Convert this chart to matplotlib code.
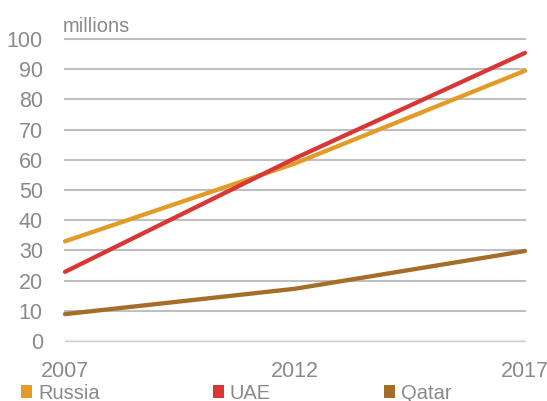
import matplotlib
matplotlib.use("Agg")
import matplotlib.pyplot as plt
from matplotlib.patches import Patch

years = [2007, 2012, 2017]
russia = [33, 58.8, 89.5]
uae = [22.9, 60.5, 95.4]
qatar = [8.9, 17.3, 29.8]
series_names = ["Russia", "UAE", "Qatar"]
colors = ["#E39A27", "#D93636", "#A46E29"]
yticks = list(range(0, 101, 10))
xtick_labels = ["2007", "2012", "2017"]

W, H = 547, 401
fig = plt.figure(figsize=(W / 100, H / 100), dpi=100)
ax = fig.add_axes([65 / W, 1 - 341 / H, 460 / W, 302 / H])

num_family = ["Liberation Sans"]
txt_color = "#8a8a8a"

for vals, name, c in zip([russia, uae, qatar], series_names, colors):
    ax.plot(years, vals, color=c, lw=3.1, solid_capstyle="round", clip_on=False, zorder=3, label=name)

ax.set_xlim(2007, 2017)
ax.set_ylim(0, 100)
ax.set_yticks(yticks)
ax.set_xticks(years)
ax.set_xticklabels(xtick_labels)
for lab in ax.get_yticklabels() + ax.get_xticklabels():
    lab.set_fontfamily(num_family)
    lab.set_fontsize(15.5)
    lab.set_color(txt_color)
ax.tick_params(axis="y", length=0, pad=16)
ax.tick_params(axis="x", length=0, pad=14.5)

for g in yticks[1:]:
    ax.axhline(g, color="#bfbfbf", lw=1.5, zorder=1, clip_on=False)
for s in ["top", "right", "left"]:
    ax.spines[s].set_visible(False)
ax.spines["bottom"].set_color("#c3d2d9")
ax.spines["bottom"].set_linewidth(1.0)
ax.axhline(0, color="#efefef", lw=2.5, zorder=0)

fig.text(63 / W, 1 - 32 / H, "millions", ha="left", va="baseline",
         color=txt_color, family=["Liberation Sans"], fontsize=14.5)

handles = [Patch(facecolor=c, edgecolor="none") for c in colors]
fig.legend(handles, series_names, loc="lower left", bbox_to_anchor=(21 / W, -0.004),
           ncol=3, frameon=False, borderpad=0, borderaxespad=0,
           handlelength=0.56, handleheight=0.56, handletextpad=0.29,
           columnspacing=5.6, prop=dict(family=["Liberation Sans"], size=14.5),
           labelcolor=txt_color)

fig.savefig("out.png", dpi=100)
